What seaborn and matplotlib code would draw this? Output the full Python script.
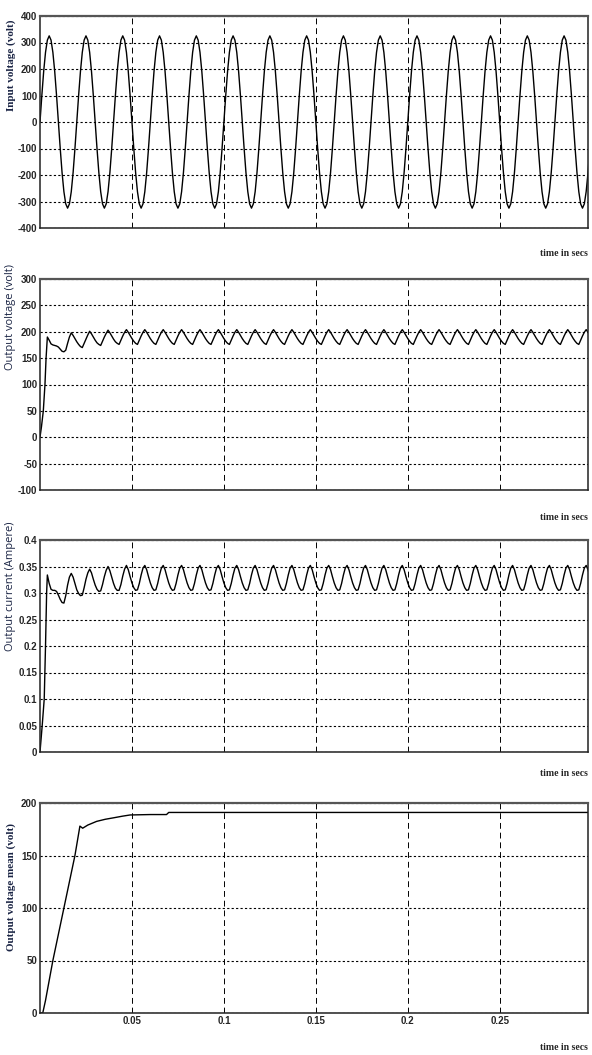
import matplotlib
matplotlib.use("Agg")
import matplotlib.pyplot as plt
import seaborn as sns
import numpy as np
from matplotlib.ticker import FormatStrFormatter, MultipleLocator

sns.set_style("white")

# sampling step of the simulation traces (s)
dt = 0.001

# input voltage: one 50 Hz mains cycle, 1 ms apart
input_cycle = [0, 100, 191, 263, 309, 325, 309, 263, 191, 100,
               0, -100, -191, -263, -309, -325, -309, -263, -191, -100]
input_cycles = 15

# output voltage: start-up rise, transient (1 ms grid from 5 ms), steady ripple cycle
vout_rise_t = [0, 0.0008, 0.0018, 0.0027, 0.0033, 0.004]
vout_rise = [0, 20, 50, 100, 150, 190]
vout_trans = [184, 177, 175, 174, 173, 171, 167, 163, 162, 165,
              178, 190, 198, 193, 187, 181, 176, 172, 170, 178,
              186, 194, 201, 196, 190, 184, 179, 176, 174, 182,
              190, 197, 203, 198, 192, 186, 181, 178, 176, 184,
              192, 199]
vout_cycle = [204, 199, 193, 187, 182, 178, 176, 184, 192, 199]

# output current, same layout
iout_rise_t = [0, 0.0012, 0.0023, 0.003, 0.0036, 0.004]
iout_rise = [0, 0.05, 0.1, 0.2, 0.3, 0.334]
iout_trans = [0.318, 0.307, 0.305, 0.305, 0.303, 0.296, 0.288, 0.282, 0.281, 0.295,
              0.315, 0.330, 0.337, 0.330, 0.318, 0.306, 0.299, 0.295, 0.296, 0.310,
              0.326, 0.338, 0.345, 0.338, 0.326, 0.315, 0.307, 0.303, 0.304, 0.316,
              0.331, 0.343, 0.350, 0.342, 0.330, 0.318, 0.309, 0.305, 0.305, 0.316,
              0.332, 0.345]
iout_cycle = [0.352, 0.344, 0.331, 0.319, 0.310, 0.305, 0.306, 0.318, 0.334, 0.347]

# mean of the output voltage
vmean_t = [0, 0.0015, 0.003, 0.007, 0.013, 0.019, 0.0217, 0.0232, 0.026, 0.0308,
           0.0355, 0.0397, 0.045, 0.049, 0.06, 0.0688, 0.07, 0.3]
vmean = [0, 0, 12, 50, 100, 150, 178, 176, 179, 182.5,
         184.5, 185.8, 187.5, 188.6, 189, 189, 191, 191]

t_end = 0.3
xticks = [0.05, 0.1, 0.15, 0.2, 0.25]
ylabels = ["Input voltage (volt)", "Output voltage (volt)",
           "Output current (Ampere)", "Output voltage mean (volt)"]


def build_trace(rise_t, rise, trans, cycle):
    t_trans = 0.005 + np.arange(len(trans)) * dt
    t0 = t_trans[-1] + dt
    n = int(round((t_end - t0) / dt)) + 1
    steady = np.tile(cycle, n // len(cycle) + 1)[:n]
    t = np.concatenate([rise_t, t_trans, t0 + np.arange(n) * dt])
    y = np.concatenate([rise, trans, steady])
    return t, y


vin = np.concatenate([np.tile(input_cycle, input_cycles), [0]])
t_in = np.arange(len(vin)) * dt
t_vo, vo = build_trace(vout_rise_t, vout_rise, vout_trans, vout_cycle)
t_io, io = build_trace(iout_rise_t, iout_rise, iout_trans, iout_cycle)

traces = [(t_in, vin), (t_vo, vo), (t_io, io), (np.array(vmean_t), np.array(vmean))]
ylims = [(-400, 400), (-100, 300), (0, 0.4), (0, 200)]
ysteps = [100, 50, 0.05, 50]
yfmt = ["%d", "%d", "%g", "%d"]
# pixel boxes (top, bottom) of each panel
boxes = [(16, 228), (279, 490), (540, 752), (803, 1013)]
xlab_y = [253, 517, 773, 1047]
label_pos = [0.77, 0.82, 0.78, 0.6]
label_font = [["Liberation Serif", "DejaVu Serif"], ["Open Sans", "DejaVu Sans"],
              ["Open Sans", "DejaVu Sans"], ["Liberation Serif", "DejaVu Serif"]]
label_weight = ["bold", "normal", "normal", "bold"]

W, H = 592, 1055
fig = plt.figure(figsize=(W / 100, H / 100), dpi=100)
tick_font = ["Liberation Sans Narrow", "Liberation Sans", "DejaVu Sans"]

for i, (t, y) in enumerate(traces):
    top, bot = boxes[i]
    ax = fig.add_axes([40 / W, 1 - bot / H, 548 / W, (bot - top) / H])
    sns.lineplot(x=t, y=y, ax=ax, color="black", linewidth=1.0,
                 estimator=None, sort=False)
    ax.set_xlim(0, 0.298)
    ax.set_ylim(*ylims[i])
    ax.yaxis.set_major_locator(MultipleLocator(ysteps[i]))
    ax.yaxis.set_major_formatter(FormatStrFormatter(yfmt[i]))
    ax.set_xticks(xticks)
    if i < 3:
        ax.set_xticklabels([])
    else:
        ax.set_xticklabels(["0.05", "0.1", "0.15", "0.2", "0.25"])
    ax.tick_params(direction="in", length=3, width=0.8, pad=2, labelsize=7)
    for lab in ax.get_xticklabels() + ax.get_yticklabels():
        lab.set_family(tick_font)
        lab.set_fontweight("bold")
    ax.xaxis.grid(True, color="black", linestyle=(0, (6, 4)), linewidth=0.7)
    ax.yaxis.grid(True, color="black", linestyle=(0, (2, 2)), linewidth=0.8)
    for sp in ax.spines.values():
        sp.set_color("#222222")
        sp.set_linewidth(1.1)
    ax.spines["top"].set_linewidth(1.6)
    ax.spines["top"].set_color("#555555")
    ax.set_xlabel("")
    ax.set_ylabel(ylabels[i], fontsize=8, color="#1b2545",
                  family=label_font[i], fontweight=label_weight[i])
    ax.yaxis.set_label_coords(-0.043, label_pos[i])
    fig.text(588 / W, 1 - xlab_y[i] / H, "time in secs", ha="right", va="center",
             fontsize=7, fontweight="bold", family=["Liberation Serif", "DejaVu Serif"])

fig.savefig("out.png", dpi=100)
